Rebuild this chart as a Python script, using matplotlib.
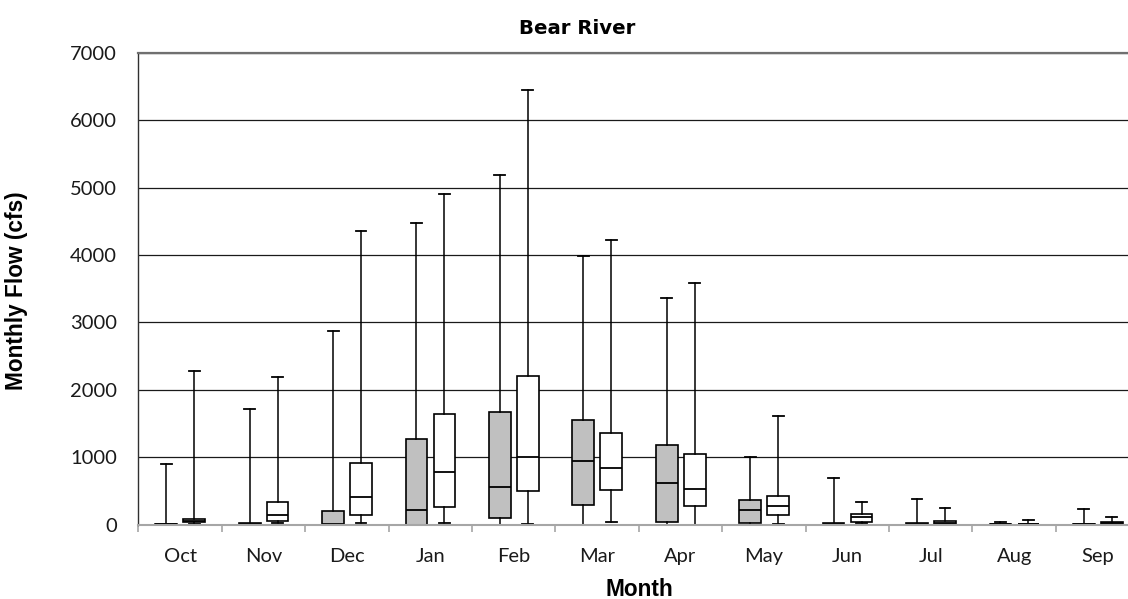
import matplotlib
matplotlib.use("Agg")
import matplotlib.pyplot as plt
import numpy as np

months = ["Oct", "Nov", "Dec", "Jan", "Feb", "Mar", "Apr", "May", "Jun", "Jul", "Aug", "Sep"]

# grey boxes (first series): min, q1, median, q3, max
grey_min = [0, 0, 0, 0, 0, 0, 0, 0, 0, 0, 0, 0]
grey_q1 = [0, 0, 0, 0, 103, 290, 45, 25, 0, 0, 0, 0]
grey_med = [2, 10, 5, 212, 554, 940, 623, 212, 10, 5, 2, 2]
grey_q3 = [5, 20, 198, 1266, 1672, 1558, 1182, 360, 30, 20, 5, 5]
grey_max = [895, 1711, 2868, 4479, 5191, 3990, 3360, 1009, 687, 381, 38, 238]

# white boxes (second series)
white_min = [10, 20, 25, 25, 14, 40, 0, 5, 20, 5, 0, 0]
white_q1 = [34, 59, 138, 262, 500, 515, 282, 144, 40, 10, 2, 5]
white_med = [60, 138, 415, 776, 1000, 841, 534, 272, 108, 30, 5, 20]
white_q3 = [83, 337, 909, 1642, 2200, 1355, 1043, 420, 163, 55, 12, 40]
white_max = [2275, 2186, 4361, 4905, 6453, 4223, 3580, 1607, 341, 242, 72, 120]

yticks = [0, 1000, 2000, 3000, 4000, 5000, 6000, 7000]

W, H = 1128, 599
fig = plt.figure(figsize=(W / 100, H / 100), dpi=100)
left, right = 138.3, 1139.3
top, bottom = 52.7, 524.6
ax = fig.add_axes([left / W, 1 - bottom / H, (right - left) / W, (bottom - top) / H])


def stats(mn, q1, md, q3, mx):
    return [dict(whislo=a, q1=b, med=c, q3=d, whishi=e, fliers=[])
            for a, b, c, d, e in zip(mn, q1, md, q3, mx)]


x = np.arange(len(months))
common = dict(widths=0.26, capwidths=0.13, patch_artist=True, showfliers=False,
              medianprops=dict(color="black", linewidth=1.3),
              whiskerprops=dict(color="black", linewidth=1.1),
              capprops=dict(color="black", linewidth=1.3),
              manage_ticks=False, zorder=3)
ax.bxp(stats(grey_min, grey_q1, grey_med, grey_q3, grey_max), positions=x - 0.165,
       boxprops=dict(facecolor="#c0c0c0", edgecolor="black", linewidth=1.2), **common)
ax.bxp(stats(white_min, white_q1, white_med, white_q3, white_max), positions=x + 0.17,
       boxprops=dict(facecolor="white", edgecolor="black", linewidth=1.2), **common)

ax.set_xlim(-0.5, len(months) - 0.5)
ax.set_ylim(0, 7000)
ax.set_yticks(yticks)
ax.set_yticklabels([str(v) for v in yticks])
ax.set_xticks(x)
ax.set_xticklabels(months)
ax.set_xticks(np.arange(-0.5, len(months)), minor=True)

ax.grid(axis="y", color="#1a1a1a", linewidth=0.9, zorder=0)
ax.set_axisbelow(True)

ax.spines["right"].set_visible(False)
ax.spines["top"].set_color("#707070")
ax.spines["top"].set_linewidth(1.6)
ax.spines["left"].set_color("#303030")
ax.spines["left"].set_linewidth(1.0)
ax.spines["bottom"].set_color("#a6a6a6")
ax.spines["bottom"].set_linewidth(1.5)
ax.spines["bottom"].set_zorder(4)

ax.tick_params(axis="y", length=0, pad=15.5)
ax.tick_params(axis="x", which="major", length=0, pad=17)
ax.tick_params(axis="x", which="minor", length=5, width=1.2, color="#a6a6a6", direction="out")
for lab in ax.get_xticklabels() + ax.get_yticklabels():
    lab.set_fontfamily("Lato")
    lab.set_fontsize(14.5)
    lab.set_color("#1a1a1a")

fig.text(577 / W, 1 - 28 / H, "Bear River", ha="center", va="center",
         fontfamily="DejaVu Sans", fontweight="bold", fontsize=14.2)
fig.text(17 / W, 1 - 291 / H, "Monthly Flow (cfs)", ha="center", va="center", rotation=90,
         fontfamily="Liberation Sans", fontweight="bold", fontsize=16.3)
fig.text(639.7 / W, 1 - 589 / H, "Month", ha="center", va="center",
         fontfamily="Liberation Sans", fontweight="bold", fontsize=16.3)

fig.savefig("out.png", dpi=100)
